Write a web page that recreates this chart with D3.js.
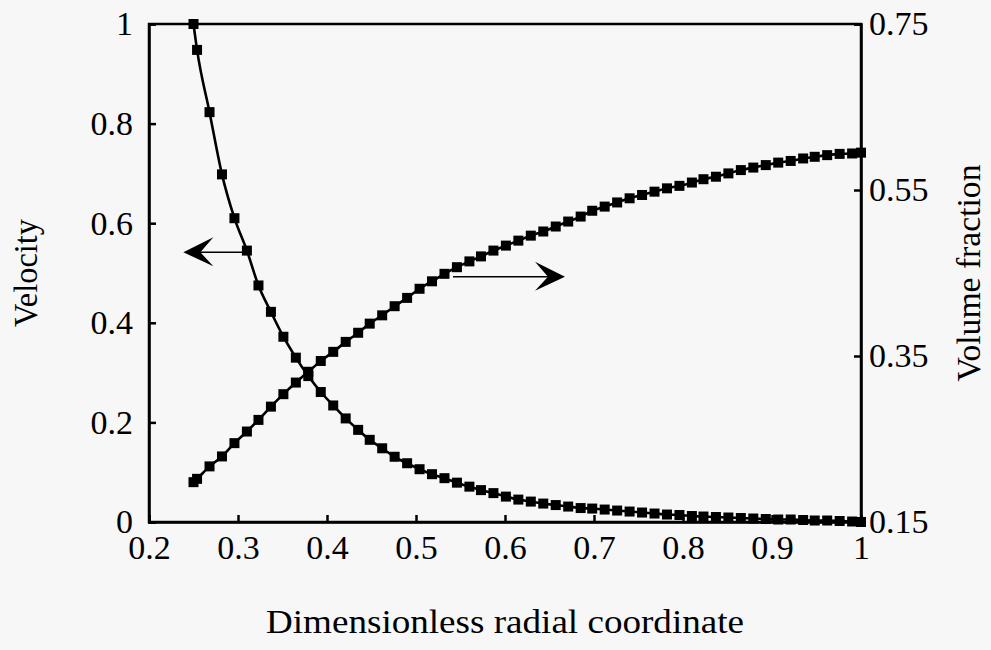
<!DOCTYPE html>
<html>
<head>
<meta charset="utf-8">
<script src="https://cdn.jsdelivr.net/npm/d3@7/dist/d3.min.js"></script>
<style>
  html, body { margin: 0; padding: 0; background: #f7f7f7; }
  svg { display: block; }
  text { font-family: "Liberation Serif", "Times New Roman", serif; fill: #000; }
</style>
</head>
<body>
<div id="chart"></div>
<script>
// ---- data ----
const radial = [0.25, 0.254, 0.268, 0.282, 0.296, 0.310, 0.323, 0.337, 0.351, 0.365, 0.379, 0.393, 0.407, 0.421, 0.435, 0.448, 0.462, 0.476, 0.490, 0.504, 0.518, 0.532, 0.546, 0.560, 0.573, 0.587, 0.601, 0.615, 0.629, 0.643, 0.657, 0.671, 0.685, 0.698, 0.712, 0.726, 0.740, 0.754, 0.768, 0.782, 0.796, 0.810, 0.823, 0.837, 0.851, 0.865, 0.879, 0.893, 0.907, 0.921, 0.935, 0.948, 0.962, 0.976, 0.990, 1.0];
const velocity = [1.0, 0.948, 0.823, 0.698, 0.610, 0.545, 0.475, 0.422, 0.372, 0.330, 0.293, 0.261, 0.234, 0.208, 0.185, 0.165, 0.148, 0.131, 0.118, 0.106, 0.096, 0.088, 0.079, 0.071, 0.064, 0.058, 0.051, 0.045, 0.041, 0.037, 0.034, 0.031, 0.028, 0.027, 0.025, 0.023, 0.021, 0.019, 0.017, 0.015, 0.014, 0.012, 0.011, 0.010, 0.009, 0.008, 0.007, 0.006, 0.005, 0.005, 0.004, 0.003, 0.003, 0.002, 0.001, 0.0];
const volumeFraction = [0.198, 0.202, 0.217, 0.229, 0.245, 0.259, 0.273, 0.289, 0.304, 0.318, 0.331, 0.344, 0.355, 0.367, 0.378, 0.389, 0.399, 0.410, 0.420, 0.431, 0.440, 0.449, 0.457, 0.464, 0.470, 0.477, 0.483, 0.489, 0.495, 0.500, 0.506, 0.512, 0.518, 0.525, 0.530, 0.535, 0.540, 0.544, 0.548, 0.552, 0.555, 0.559, 0.563, 0.566, 0.570, 0.574, 0.577, 0.580, 0.583, 0.585, 0.588, 0.590, 0.592, 0.5935, 0.594, 0.595];
const xTicks = [0.2, 0.3, 0.4, 0.5, 0.6, 0.7, 0.8, 0.9, 1];
const xTickLabels = ["0.2", "0.3", "0.4", "0.5", "0.6", "0.7", "0.8", "0.9", "1"];
const leftTicks = [0, 0.2, 0.4, 0.6, 0.8, 1];
const leftTickLabels = ["0", "0.2", "0.4", "0.6", "0.8", "1"];
const rightTicks = [0.15, 0.35, 0.55, 0.75];
const rightTickLabels = ["0.15", "0.35", "0.55", "0.75"];
// annotation arrows: [x from, x to, y value]
const leftArrow = { from: 0.305, to: 0.2386, y: 0.5416 };      // on velocity axis
const rightArrow = { from: 0.5416, to: 0.6674, y: 0.4455 };    // on volume-fraction axis

// ---- layout ----
const W = 991, H = 650;
const m = { left: 149, right: 991 - 861, top: 24, bottom: 650 - 522 };
const svg = d3.select("#chart").append("svg").attr("width", W).attr("height", H);
svg.append("rect").attr("width", W).attr("height", H).attr("fill", "#f7f7f7");

const x = d3.scaleLinear().domain([0.2, 1]).range([m.left, W - m.right]);
const yL = d3.scaleLinear().domain([0, 1]).range([H - m.bottom, m.top]);
const yR = d3.scaleLinear().domain([0.15, 0.75]).range([H - m.bottom, m.top]);

const fs = 34;

// frame
svg.append("rect")
  .attr("x", x(0.2)).attr("y", yL(1))
  .attr("width", x(1) - x(0.2)).attr("height", yL(0) - yL(1))
  .attr("fill", "none").attr("stroke", "#000").attr("stroke-width", 2.5);

// axes
const xAxis = d3.axisBottom(x).tickValues(xTicks).tickSize(-7).tickPadding(13)
  .tickFormat((d, i) => xTickLabels[i]);
const gx = svg.append("g").attr("transform", `translate(0,${yL(0)})`).call(xAxis);

const lAxis = d3.axisLeft(yL).tickValues(leftTicks).tickSize(-7).tickPadding(16)
  .tickFormat((d, i) => leftTickLabels[i]);
const gl = svg.append("g").attr("transform", `translate(${x(0.2)},0)`).call(lAxis);

const rAxis = d3.axisRight(yR).tickValues(rightTicks).tickSize(-7).tickPadding(8)
  .tickFormat((d, i) => rightTickLabels[i]);
const gr = svg.append("g").attr("transform", `translate(${x(1)},0)`).call(rAxis);

[gx, gl, gr].forEach(a => {
  a.attr("font-family", null);
  a.select(".domain").attr("stroke", "#000").attr("stroke-width", 2.5);
  a.selectAll(".tick line").attr("stroke", "#000").attr("stroke-width", 2.5);
  a.selectAll(".tick text").attr("font-size", fs).attr("fill", "#000");
});
gx.selectAll(".tick text").attr("dy", "0.71em");

// titles
svg.append("text").attr("x", (x(0.2) + x(1)) / 2).attr("y", 633)
  .attr("text-anchor", "middle").attr("font-size", 34)
  .attr("textLength", 478).attr("lengthAdjust", "spacingAndGlyphs")
  .text("Dimensionless radial coordinate");
svg.append("text").attr("transform", `translate(37,${273}) rotate(-90)`)
  .attr("text-anchor", "middle").attr("font-size", 34)
  .attr("textLength", 108).attr("lengthAdjust", "spacingAndGlyphs")
  .text("Velocity");
svg.append("text").attr("transform", `translate(980,${273}) rotate(-90)`)
  .attr("text-anchor", "middle").attr("font-size", 34)
  .attr("textLength", 217).attr("lengthAdjust", "spacingAndGlyphs")
  .text("Volume fraction");

// series
const velData = radial.map((r, i) => ({ r, v: velocity[i] }));
const vfData = radial.map((r, i) => ({ r, v: volumeFraction[i] }));

const lineV = d3.line().x(d => x(d.r)).y(d => yL(d.v)).curve(d3.curveMonotoneX);
const lineF = d3.line().x(d => x(d.r)).y(d => yR(d.v)).curve(d3.curveMonotoneX);

svg.append("path").datum(velData).attr("d", lineV)
  .attr("fill", "none").attr("stroke", "#000").attr("stroke-width", 2.6);
svg.append("path").datum(vfData).attr("d", lineF)
  .attr("fill", "none").attr("stroke", "#000").attr("stroke-width", 2.6);

const ms = 10;
svg.append("g").selectAll("rect").data(velData).join("rect")
  .attr("x", d => x(d.r) - ms / 2).attr("y", d => yL(d.v) - ms / 2)
  .attr("width", ms).attr("height", ms).attr("fill", "#000");
svg.append("g").selectAll("rect").data(vfData).join("rect")
  .attr("x", d => x(d.r) - ms / 2).attr("y", d => yR(d.v) - ms / 2)
  .attr("width", ms).attr("height", ms).attr("fill", "#000");

// arrows
function arrow(x1, x2, yPix) {
  const dir = Math.sign(x2 - x1);
  svg.append("line").attr("x1", x1).attr("x2", x2 - dir * 10).attr("y1", yPix).attr("y2", yPix)
    .attr("stroke", "#000").attr("stroke-width", 1.6);
  const p = d3.path();
  p.moveTo(x2, yPix);
  p.lineTo(x2 - dir * 30, yPix - 15);
  p.lineTo(x2 - dir * 17, yPix);
  p.lineTo(x2 - dir * 30, yPix + 14);
  p.closePath();
  svg.append("path").attr("d", p.toString()).attr("fill", "#000");
}
arrow(x(leftArrow.from), x(leftArrow.to), yL(leftArrow.y));
arrow(x(rightArrow.from), x(rightArrow.to), yR(rightArrow.y));
</script>
</body>
</html>
